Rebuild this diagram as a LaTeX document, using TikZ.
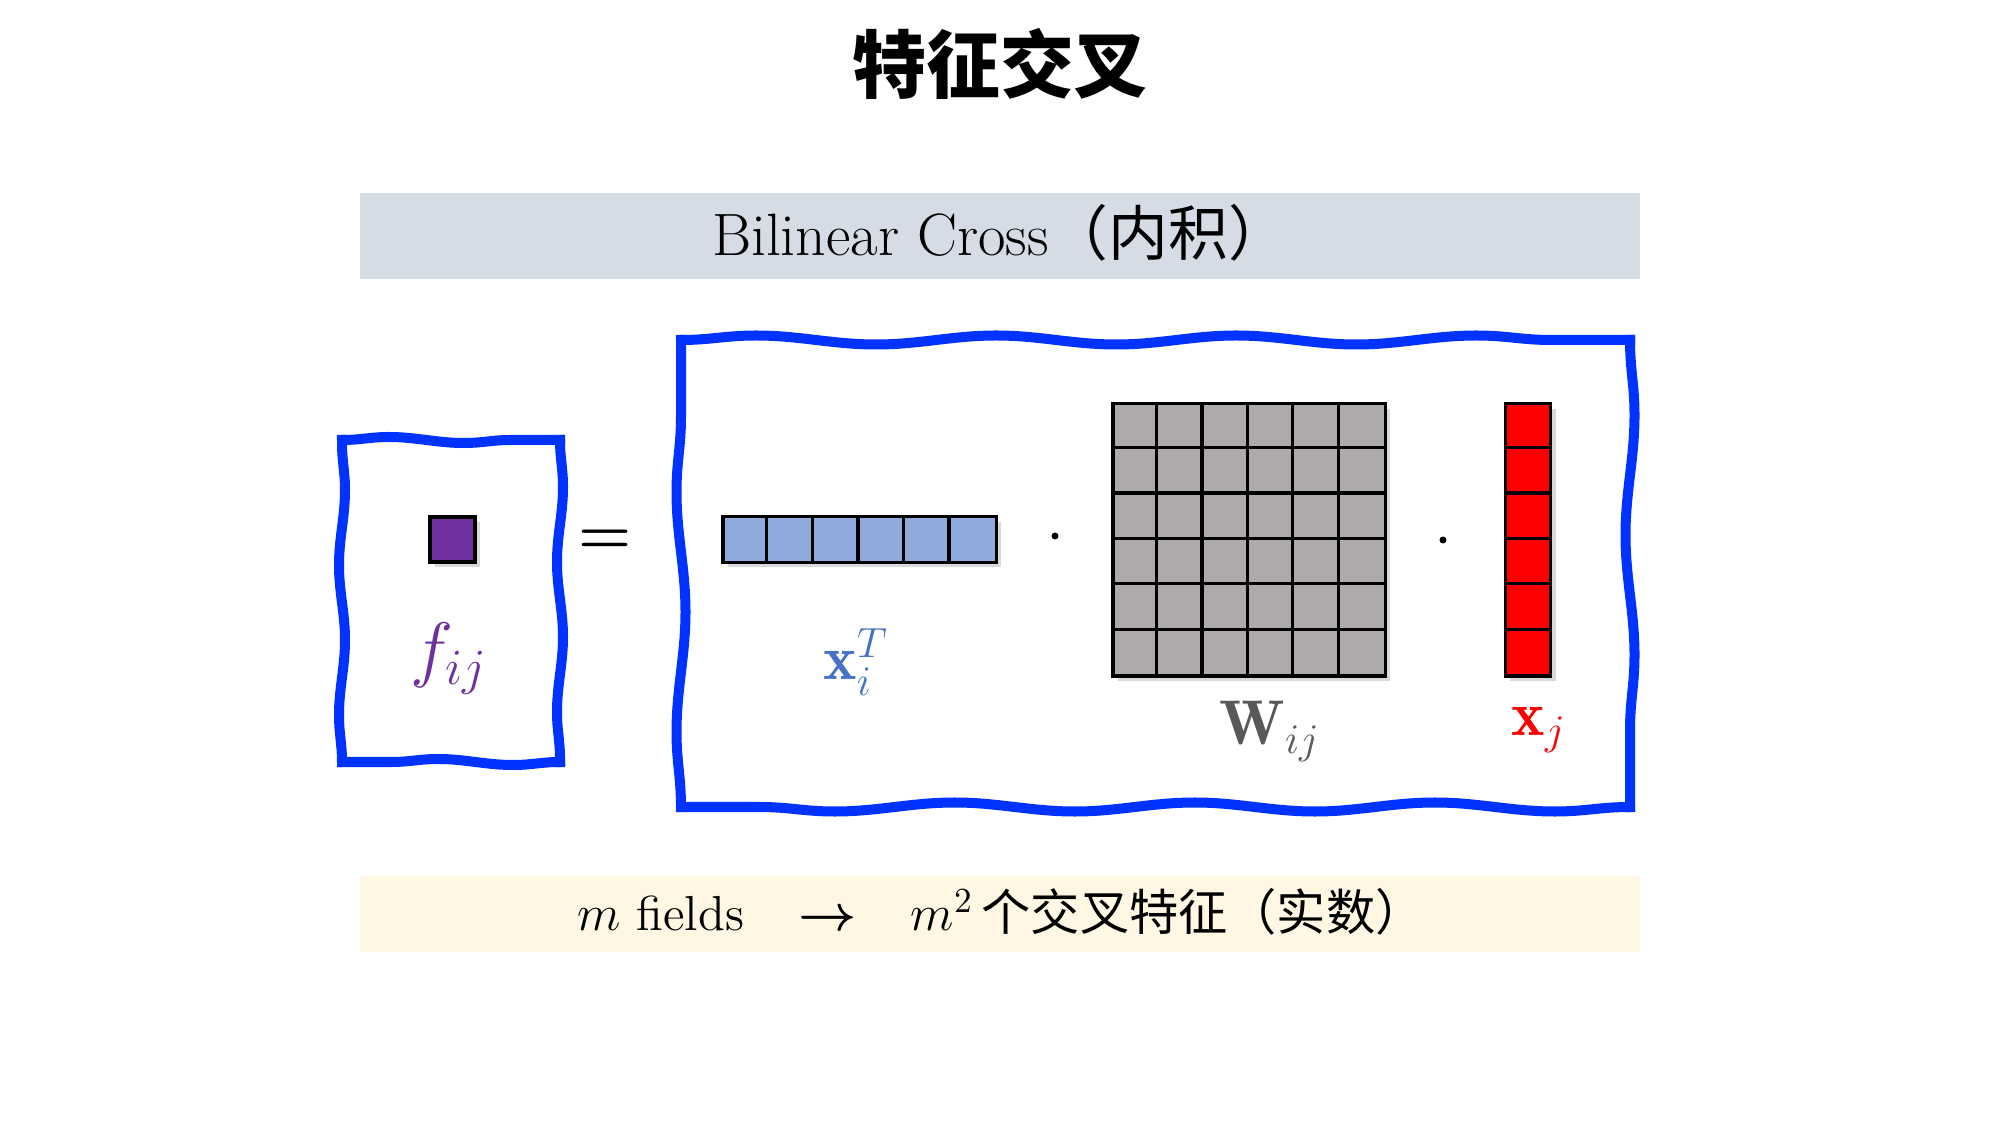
\documentclass[tikz,border=0pt]{standalone}
\usepackage{fontspec}
\usepackage{amsmath}
\newfontfamily\cjk{Noto Sans CJK SC}
\usetikzlibrary{positioning,shadows,decorations.pathmorphing}
\definecolor{bandblue}{HTML}{D6DCE5}
\definecolor{bandcream}{HTML}{FFF7E4}
\definecolor{wavyblue}{HTML}{0033FF}
\definecolor{fpurple}{HTML}{7030A0}
\definecolor{xiblue}{HTML}{8FAADC}
\definecolor{xilabel}{HTML}{4472C4}
\definecolor{wgray}{HTML}{AEAAAA}
\definecolor{wlabel}{HTML}{595959}

\begin{document}
\begin{tikzpicture}[x=0.01cm, y=-0.01cm,
  bandbox/.style={minimum width=12.8cm, inner sep=0pt},
  wavybig/.style={draw=wavyblue, line width=1mm, line cap=rect, decorate,
    decoration={snake, amplitude=0.45mm, segment length=2.4cm}},
  wavysmall/.style={draw=wavyblue, line width=1mm, line cap=rect, decorate,
    decoration={snake, amplitude=0.3mm, segment length=1.5cm}},
  cellbox/.style={draw=black, line width=0.9pt, inner sep=0pt,
    drop shadow={shadow xshift=0.5mm, shadow yshift=-0.5mm, opacity=0.3}},
  gridline/.style={draw=black, line width=0.9pt},
  prod/.style={circle, fill=black, inner sep=0pt, minimum size=0.07cm},
  lbl/.style={inner sep=0pt, font=\fontsize{18}{20}\selectfont}]
  \useasboundingbox (0,0) rectangle (2000,1125);

  % title and the two bands
  \node[font=\fontsize{21}{24}\selectfont\cjk\bfseries] (title) at (1000,64) {特征交叉};
  \node[bandbox, fill=bandblue, minimum height=0.85cm] (topband) at (1000,236) {};
  \node[font=\fontsize{17}{19}\selectfont] (toptxt) at (1000,233) {Bilinear Cross{\cjk（内积）}};
  \node[bandbox, fill=bandcream, minimum height=0.76cm] (botband) at (1000,914) {};
  \node[font=\fontsize{14}{16}\selectfont] (bottxt) at (1001,912)
    {$m$ fields\hspace{1.1em}$\boldsymbol{\rightarrow}$\hspace{1.1em}$m^2$\,{\cjk 个交叉特征（实数）}};

  % wavy frames
  \coordinate (L1) at (342,440); \coordinate (L2) at (560,440);
  \coordinate (L3) at (560,762); \coordinate (L4) at (342,762);
  \coordinate (R1) at (681,340); \coordinate (R2) at (1630,340);
  \coordinate (R3) at (1630,807); \coordinate (R4) at (681,807);
  \foreach \a/\b in {L1/L2,L2/L3,L3/L4,L4/L1}
    \draw[wavysmall] (\a) -- (\b);
  \foreach \a/\b in {R1/R2,R2/R3,R3/R4,R4/R1}
    \draw[wavybig] (\a) -- (\b);

  % f_ij
  \node[cellbox, fill=fpurple, minimum size=0.45cm] (fsq) at (452.5,539.5) {};
  \node[lbl, text=fpurple, font=\fontsize{20}{22}\selectfont] (flbl) at (449,659) {$f_{ij}$};
  \node[font=\fontsize{16}{18}\selectfont] (eq) at (605,542) {$\boldsymbol{=}$};

  % x_i^T row vector
  \node[cellbox, fill=xiblue, minimum width=2.73cm, minimum height=0.455cm] (xi) at (859.5,539.5) {};
  \foreach \k in {1,...,5}
    \draw[gridline] ([xshift=\k*4.55mm]xi.north west) -- ([xshift=\k*4.55mm]xi.south west);
  \node[lbl, text=xilabel] (xilbl) at (856,662) {$\mathbf{x}_i^T$};
  \node[prod] (dot1) at (1055,536) {};

  % W_ij matrix
  \node[cellbox, fill=wgray, minimum size=2.72cm] (W) at (1249,540) {};
  \foreach \k in {1,...,5} {
    \draw[gridline] ([xshift=\k*4.533mm]W.north west) -- ([xshift=\k*4.533mm]W.south west);
    \draw[gridline] ([yshift=-\k*4.533mm]W.north west) -- ([yshift=-\k*4.533mm]W.north east);
  }
  \node[lbl, text=wlabel] (Wlbl) at (1270,731) {$\mathbf{W}_{ij}$};
  \node[prod] (dot2) at (1443,540) {};

  % x_j column vector
  \node[cellbox, fill=red, minimum width=0.455cm, minimum height=2.72cm] (xj) at (1528,540) {};
  \foreach \k in {1,...,5}
    \draw[gridline] ([yshift=-\k*4.533mm]xj.north west) -- ([yshift=-\k*4.533mm]xj.north east);
  \node[lbl, text=red] (xjlbl) at (1539,730) {$\mathbf{x}_j$};
\end{tikzpicture}
\end{document}
